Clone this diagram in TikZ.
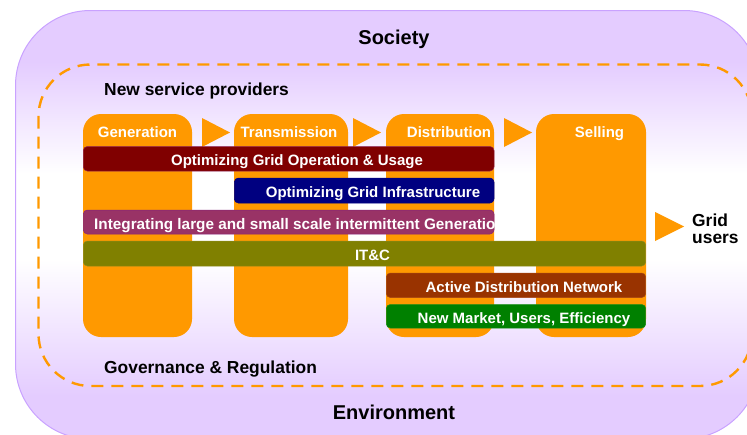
\documentclass[tikz,border=0pt]{standalone}
\usepackage{fontspec}
\setmainfont{Liberation Sans}
\definecolor{lav}{HTML}{E4CCFF}
\definecolor{lavedge}{HTML}{C9A2FF}
\definecolor{orng}{HTML}{FF9900}
\pgfdeclareverticalshading{socshade}{100bp}{color(0bp)=(lav);color(30bp)=(lav);color(46bp)=(white);color(56bp)=(white);color(69bp)=(lav);color(100bp)=(lav)}
\tikzset{
  x=1pt,y=-1pt,
  block/.style={fill=orng,draw=none,rounded corners=18pt},
  tri/.style={fill=orng,draw=none},
  bar/.style={rounded corners=4pt,line width=0.5pt},
  head/.style={font=\bfseries\fontsize{20}{22}\selectfont,text=black,inner sep=0pt,anchor=base},
  col/.style={font=\bfseries\fontsize{15}{17}\selectfont,text=white,inner sep=0pt,anchor=base},
  side/.style={head,font=\bfseries\fontsize{17.4}{20}\selectfont,anchor=base west},
}
\begin{document}
\begin{tikzpicture}
\useasboundingbox (0,0) rectangle (747,434);
\clip (0,0) rectangle (747,434);
\path[shading=socshade,draw=lavedge,line width=1pt,rounded corners=75pt] (15.5,10.5) rectangle (759,439);
\draw[orng,line width=2.4pt,dash pattern=on 12pt off 8pt,rounded corners=52pt] (38.5,64.5) rectangle (752,386);
\path[block] (83,114) rectangle (192,337);
\path[block] (234,114) rectangle (348,337);
\path[block] (386,114) rectangle (494,337);
\path[block] (536,114) rectangle (646,337);
\path[tri] (202,118) -- (230,132.5) -- (202,147) -- cycle;
\path[tri] (353,118) -- (381,132.5) -- (353,147) -- cycle;
\path[tri] (504,118) -- (532,132.5) -- (504,147) -- cycle;
\path[tri] (655,212) -- (684,226.5) -- (655,241) -- cycle;
\draw[bar,fill={rgb,255:red,128;green,0;blue,0},draw={rgb,255:red,140;green,30;blue,80}] (83.3,146.5) rectangle (494,171);
\draw[bar,fill={rgb,255:red,0;green,0;blue,128},draw={rgb,255:red,0;green,0;blue,128}] (234.3,178) rectangle (494,203);
\draw[bar,fill={rgb,255:red,153;green,51;blue,102},draw={rgb,255:red,135;green,35;blue,120}] (83.3,210) rectangle (494,234);
\draw[bar,fill={rgb,255:red,128;green,128;blue,0},draw={rgb,255:red,140;green,140;blue,30}] (83.3,241) rectangle (645.7,266);
\draw[bar,fill={rgb,255:red,153;green,51;blue,0},draw={rgb,255:red,165;green,70;blue,20}] (386.3,273) rectangle (645.7,297.5);
\draw[bar,fill={rgb,255:red,0;green,128;blue,0},draw={rgb,255:red,20;green,140;blue,20}] (386.3,304.5) rectangle (645.7,328);
\node[head] (society) at (394,44.3) {Society};
\node[head] (env) at (394,419.5) {Environment};
\node[side] (nsp) at (104,95) {New service providers};
\node[side] (gov) at (104,373.7) {Governance \& Regulation};
\node[col] (gen) at (137.5,137.5) {Generation};
\node[col] (trans) at (289,137.5) {Transmission};
\node[col] (dist) at (449,137.5) {Distribution};
\node[col] (sell) at (599.5,137.5) {Selling};
\node[col] (l1) at (297,165.7) {Optimizing Grid Operation \& Usage};
\node[col] (l2) at (373,197.3) {Optimizing Grid Infrastructure};
\begin{scope}
\clip (83,205) rectangle (494,238);
\node[col,anchor=base west,font=\bfseries\fontsize{15.3}{17}\selectfont] (l3) at (94,229.7) {Integrating large and small scale intermittent Generation};
\end{scope}
\node[col] (l4) at (372.5,260.3) {IT\&C};
\node[col] (l5) at (524,292.3) {Active Distribution Network};
\node[col] (l6) at (524,323.7) {New Market, Users, Efficiency};
\node[side] (g1) at (692,226.2) {Grid};
\node[side] (g2) at (692,243.7) {users};
\end{tikzpicture}
\end{document}
